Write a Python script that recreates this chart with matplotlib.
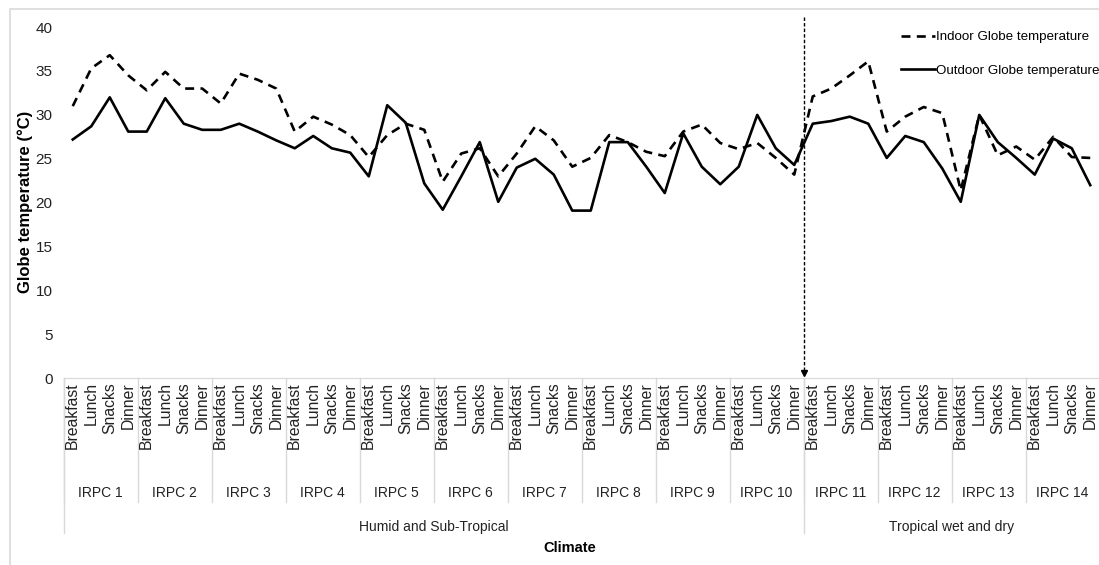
import matplotlib
matplotlib.use("Agg")
import matplotlib.pyplot as plt
from matplotlib.patches import Rectangle

plt.rcParams['font.family'] = ['Liberation Sans', 'DejaVu Sans']

meals = ["Breakfast", "Lunch", "Snacks", "Dinner"]
sites = ["IRPC %d" % k for k in range(1, 15)]
climates = ["Humid and Sub-Tropical", "Tropical wet and dry"]
climate_sizes = [10, 4]   # number of IRPC sites in each climate

indoor = [31.0, 35.3, 36.8, 34.5,
          32.8, 34.9, 33.0, 33.0,
          31.3, 34.7, 34.0, 33.0,
          28.1, 29.8, 28.9, 27.7,
          25.2, 27.7, 29.0, 28.3,
          22.4, 25.6, 26.2, 23.0,
          25.6, 28.7, 27.1, 24.1,
          25.1, 27.7, 26.9, 25.8,
          25.3, 28.1, 28.9, 26.8,
          26.1, 26.8, 25.1, 23.2,
          32.1, 33.0, 34.5, 36.1,
          28.1, 29.8, 30.9, 30.2,
          21.4, 30.0, 25.4, 26.4,
          24.9, 27.5, 25.2, 25.1]

outdoor = [27.2, 28.7, 32.0, 28.1,
           28.1, 31.9, 29.0, 28.3,
           28.3, 29.0, 28.1, 27.1,
           26.2, 27.6, 26.2, 25.7,
           23.0, 31.1, 29.1, 22.2,
           19.2, 23.0, 26.9, 20.1,
           24.0, 25.0, 23.2, 19.1,
           19.1, 26.9, 26.9, 24.1,
           21.1, 27.9, 24.1, 22.1,
           24.1, 30.0, 26.2, 24.3,
           29.0, 29.3, 29.8, 29.0,
           25.1, 27.6, 26.9, 23.9,
           20.1, 30.0, 26.9, 25.1,
           23.2, 27.3, 26.2, 22.0]

W, H = 1099, 565
fig = plt.figure(figsize=(W / 100, H / 100), dpi=100)
fig.patches.append(Rectangle((10 / W, -0.1), 1.2, 1.1 - 9 / H, transform=fig.transFigure,
                             fill=False, edgecolor="#d9d9d9", linewidth=1.2))

ax_left, ax_right = 63.5, 1099.5
ax_bottom, ax_top = 378.3, 27.1
ax = fig.add_axes([ax_left / W, 1 - ax_bottom / H, (ax_right - ax_left) / W, (ax_bottom - ax_top) / H])

x = list(range(len(indoor)))
ax.plot(x, indoor, color="black", linewidth=1.9, linestyle=(0, (3.4, 2.4)),
        label="Indoor Globe temperature")
ax.plot(x, outdoor, color="black", linewidth=1.9, label="Outdoor Globe temperature")

ax.set_xlim(-0.5, len(indoor) - 0.5)
ax.set_ylim(0, 40)
ax.set_yticks(range(0, 41, 5))
ax.tick_params(axis="y", length=0, pad=8, labelsize=11, labelcolor="#222222")
ax.set_xticks([])
for s in ["top", "right", "left"]:
    ax.spines[s].set_visible(False)
ax.spines["bottom"].set_color("#d9d9d9")

fig.text(25 / W, 1 - 202 / H, "Globe temperature (°C)", rotation=90, ha="center", va="center",
         fontsize=12, fontweight="bold")

# vertical divider between the two climate zones
split = climate_sizes[0] * 4 - 0.5
ax.plot([split, split], [41.1, 0.8], color="black", linewidth=1.0, linestyle=(0, (2.5, 1.5)),
        clip_on=False)
ax.plot([split], [0.55], marker="v", color="black", markersize=5, clip_on=False)

# multi-level category axis
tr = ax.get_xaxis_transform()
ax_h = ax_bottom - ax_top


def fy(py):
    return -(py - ax_bottom) / ax_h


grid_c = "#d9d9d9"
for i, m in enumerate(meals * len(sites)):
    ax.text(i, fy(382), m, transform=tr, rotation=90, ha="center", va="top",
            fontsize=11.3, color="#222222")
for g, name in enumerate(sites):
    ax.text(g * 4 + 1.5, fy(493), name, transform=tr, ha="center", va="center",
            fontsize=10, color="#222222")
    ax.plot([g * 4 - 0.5] * 2, [fy(378.3), fy(502)], transform=tr, color=grid_c,
            linewidth=1.0, clip_on=False)
start = 0
for c, n in zip(climates, climate_sizes):
    lo, hi = start * 4 - 0.5, (start + n) * 4 - 0.5
    ax.text((lo + hi) / 2, fy(527), c, transform=tr, ha="center", va="center",
            fontsize=10, color="#222222")
    ax.plot([lo, lo], [fy(378.3), fy(533)], transform=tr, color=grid_c, linewidth=1.0,
            clip_on=False)
    start += n

fig.text(570 / W, 1 - 548 / H, "Climate", ha="center", va="center", fontsize=10.5,
         fontweight="bold")

ax.legend(loc="upper left", bbox_to_anchor=(901 / W, 1 - 31 / H), bbox_transform=fig.transFigure,
          frameon=False, fontsize=9.6, handlelength=2.55, handletextpad=0.1,
          labelspacing=1.6, borderpad=0, borderaxespad=0)

fig.savefig("out.png", dpi=100)
